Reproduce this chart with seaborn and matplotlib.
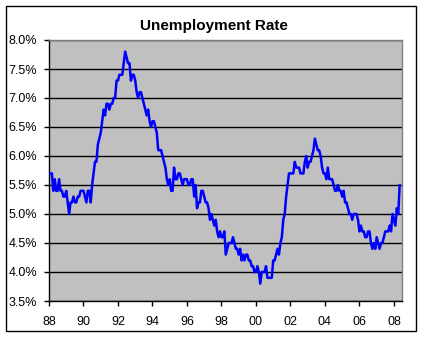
import numpy as np
import pandas as pd
import matplotlib
matplotlib.use("Agg")
import matplotlib.pyplot as plt
import seaborn as sns
from matplotlib.patches import Rectangle

# Monthly unemployment rate (%), Jan 1988 - May 2008
rate_1988 = [5.7, 5.7, 5.7, 5.4, 5.6, 5.4, 5.4, 5.6, 5.4, 5.4, 5.3, 5.3]
rate_1989 = [5.4, 5.2, 5.0, 5.2, 5.2, 5.3, 5.2, 5.2, 5.3, 5.3, 5.4, 5.4]
rate_1990 = [5.4, 5.3, 5.2, 5.4, 5.4, 5.2, 5.5, 5.7, 5.9, 5.9, 6.2, 6.3]
rate_1991 = [6.4, 6.6, 6.8, 6.7, 6.9, 6.9, 6.8, 6.9, 6.9, 7.0, 7.0, 7.3]
rate_1992 = [7.3, 7.4, 7.4, 7.4, 7.6, 7.8, 7.7, 7.6, 7.6, 7.3, 7.4, 7.4]
rate_1993 = [7.3, 7.1, 7.0, 7.1, 7.1, 7.0, 6.9, 6.8, 6.7, 6.8, 6.6, 6.5]
rate_1994 = [6.6, 6.6, 6.5, 6.4, 6.1, 6.1, 6.1, 6.0, 5.9, 5.8, 5.6, 5.5]
rate_1995 = [5.6, 5.4, 5.4, 5.8, 5.6, 5.6, 5.7, 5.7, 5.6, 5.5, 5.6, 5.6]
rate_1996 = [5.6, 5.5, 5.5, 5.6, 5.6, 5.3, 5.5, 5.1, 5.2, 5.2, 5.4, 5.4]
rate_1997 = [5.3, 5.2, 5.2, 5.1, 4.9, 5.0, 4.9, 4.8, 4.9, 4.7, 4.6, 4.7]
rate_1998 = [4.6, 4.6, 4.7, 4.3, 4.4, 4.5, 4.5, 4.5, 4.6, 4.5, 4.4, 4.4]
rate_1999 = [4.3, 4.4, 4.2, 4.3, 4.2, 4.3, 4.3, 4.2, 4.2, 4.1, 4.1, 4.0]
rate_2000 = [4.0, 4.1, 4.0, 3.8, 4.0, 4.0, 4.0, 4.1, 3.9, 3.9, 3.9, 3.9]
rate_2001 = [4.2, 4.2, 4.3, 4.4, 4.3, 4.5, 4.6, 4.9, 5.0, 5.3, 5.5, 5.7]
rate_2002 = [5.7, 5.7, 5.7, 5.9, 5.8, 5.8, 5.8, 5.7, 5.7, 5.7, 5.9, 6.0]
rate_2003 = [5.8, 5.9, 5.9, 6.0, 6.1, 6.3, 6.2, 6.1, 6.1, 6.0, 5.8, 5.7]
rate_2004 = [5.7, 5.6, 5.8, 5.6, 5.6, 5.6, 5.5, 5.4, 5.4, 5.5, 5.4, 5.4]
rate_2005 = [5.3, 5.4, 5.2, 5.2, 5.1, 5.0, 5.0, 4.9, 5.0, 5.0, 5.0, 4.9]
rate_2006 = [4.7, 4.8, 4.7, 4.7, 4.6, 4.6, 4.7, 4.7, 4.5, 4.4, 4.5, 4.4]
rate_2007 = [4.6, 4.5, 4.4, 4.5, 4.5, 4.6, 4.7, 4.7, 4.7, 4.8, 4.7, 5.0]
rate_2008 = [4.9, 4.8, 5.1, 5.0, 5.5]

x_ticks = [1988, 1990, 1992, 1994, 1996, 1998, 2000, 2002, 2004, 2006, 2008]
x_tick_labels = ["88", "90", "92", "94", "96", "98", "00", "02", "04", "06", "08"]
y_ticks = [3.5, 4.0, 4.5, 5.0, 5.5, 6.0, 6.5, 7.0, 7.5, 8.0]
y_tick_labels = ["3.5%", "4.0%", "4.5%", "5.0%", "5.5%", "6.0%", "6.5%", "7.0%", "7.5%", "8.0%"]

rates = (rate_1988 + rate_1989 + rate_1990 + rate_1991 + rate_1992 + rate_1993 +
         rate_1994 + rate_1995 + rate_1996 + rate_1997 + rate_1998 + rate_1999 +
         rate_2000 + rate_2001 + rate_2002 + rate_2003 + rate_2004 + rate_2005 +
         rate_2006 + rate_2007 + rate_2008)
df = pd.DataFrame({"year": 1988 + np.arange(len(rates)) / 12.0, "rate": rates})

sns.set_style("white")
plt.rcParams["font.family"] = ["Liberation Sans", "DejaVu Sans"]

W, H = 426, 337
fig = plt.figure(figsize=(W / 100, H / 100), dpi=100, facecolor="white")
ax = fig.add_axes([49 / W, 1 - 301 / H, (401.7 - 49) / W, (301 - 40) / H])
ax.set_facecolor("#C0C0C0")

for yv in y_ticks:
    ax.axhline(yv, color="black", lw=1.0, zorder=1)

sns.lineplot(data=df, x="year", y="rate", ax=ax, color="#0000FF", lw=1.8,
             zorder=3, legend=False)

ax.set_xlim(1988, 2008.45)
ax.set_ylim(3.5, 8.0)
ax.set_xticks(x_ticks)
ax.set_xticklabels(x_tick_labels)
ax.set_yticks(y_ticks)
ax.set_yticklabels(y_tick_labels)
ax.set_xlabel("")
ax.set_ylabel("")
ax.tick_params(axis="both", direction="out", length=3.5, width=1, color="black",
               labelsize=9, labelcolor="black")
ax.tick_params(axis="y", pad=5, left=True)
ax.tick_params(axis="x", pad=7, bottom=True)

for side in ["top", "right"]:
    ax.spines[side].set_visible(True)
    ax.spines[side].set_color("#808080")
    ax.spines[side].set_linewidth(1)
for side in ["left", "bottom"]:
    ax.spines[side].set_visible(True)
    ax.spines[side].set_color("black")
    ax.spines[side].set_linewidth(1)

fig.text(214 / W, 1 - 26 / H, "Unemployment Rate", ha="center", va="center",
         fontsize=11, fontweight="bold", color="black")

fig.patches.append(Rectangle((5.5 / W, 1 - 331 / H), (416 - 5.5) / W, (331 - 5.5) / H,
                             transform=fig.transFigure, fill=False,
                             edgecolor="black", lw=1))

fig.savefig("out.png", dpi=100, facecolor="white")
